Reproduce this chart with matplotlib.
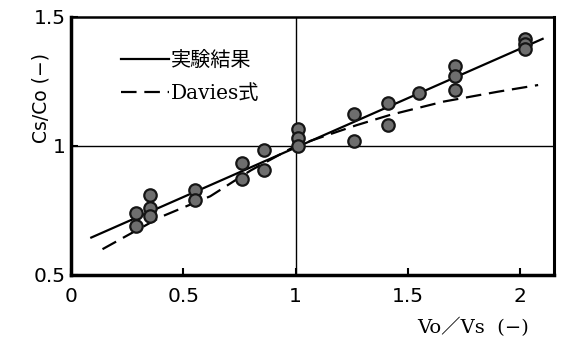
import numpy as np
import matplotlib.pyplot as plt

#### 測定値 (Vo/Vs, Cs/Co)
vo_vs = [0.29, 0.29, 0.35, 0.35, 0.35, 0.55, 0.55, 0.76, 0.76, 0.86, 0.86,
         1.01, 1.01, 1.01, 1.26, 1.26, 1.41, 1.41, 1.55, 1.71, 1.71, 1.71,
         2.02, 2.02, 2.02]
cs_co = [0.74, 0.69, 0.81, 0.76, 0.73, 0.83, 0.79, 0.935, 0.87, 0.985, 0.905,
         1.065, 1.03, 1.0, 1.125, 1.02, 1.165, 1.08, 1.205, 1.31, 1.27, 1.215,
         1.415, 1.395, 1.375]

#### 実験結果の直線
fit_x = [0.09, 2.10]
fit_y = [0.645, 1.415]

#### Davies式の曲線
dav_x = [0.14, 0.40, 0.62, 0.80, 1.00, 1.27, 1.42, 1.66, 1.90, 2.08]
dav_y = [0.60, 0.725, 0.805, 0.905, 1.0, 1.08, 1.12, 1.172, 1.21, 1.236]

xticks = [0, 0.5, 1, 1.5, 2]
xtick_labels = ['0', '0.5', '1', '1.5', '2']
yticks = [0.5, 1, 1.5]
ytick_labels = ['0.5', '1', '1.5']

serif_jp = ['DejaVu Serif', 'Noto Sans CJK JP']

fig = plt.figure(figsize=(5.64, 3.45), dpi=100)
ax = fig.add_axes([0.126, 0.203, 0.856, 0.748])

ax.axvline(1, color='black', lw=1.0, zorder=1)
ax.axhline(1, color='black', lw=1.0, zorder=1)

ax.plot(fit_x, fit_y, color='black', lw=1.6, zorder=2, label='実験結果')
ax.plot(dav_x, dav_y, color='black', lw=1.6, dashes=(7, 3.5), zorder=2, label='Davies式')
ax.scatter(vo_vs, cs_co, s=80, facecolor='#6e6e6e', edgecolor='#151515',
           linewidths=1.6, zorder=3)

ax.set_xlim(0, 2.15)
ax.set_ylim(0.5, 1.5)
ax.set_xticks(xticks)
ax.set_xticklabels(xtick_labels, fontsize=14.5, family='DejaVu Sans')
ax.set_yticks(yticks)
ax.set_yticklabels(ytick_labels, fontsize=14.5, family='DejaVu Sans')
ax.tick_params(direction='in', length=5, width=1.5)
ax.tick_params(axis='x', pad=9)
ax.tick_params(axis='y', pad=4)

ax.spines['left'].set_linewidth(2.5)
ax.spines['bottom'].set_linewidth(2.5)
ax.spines['top'].set_linewidth(1.8)
ax.spines['right'].set_linewidth(2.2)

fig.text(0.072, 0.715, 'Cs/Co (−)', rotation=90, ha='center', va='center',
         fontsize=13.5, family='DejaVu Sans')
fig.text(0.838, 0.05, 'Vo／Vs  (−)', ha='center', va='center',
         fontsize=14, family=serif_jp)

leg = ax.legend(loc='upper left', bbox_to_anchor=(0.065, 0.94), frameon=False,
                handlelength=2.4, handletextpad=0.1, labelspacing=0.7,
                prop={'family': serif_jp, 'size': 14.5})

plt.savefig('out.png', dpi=100)
